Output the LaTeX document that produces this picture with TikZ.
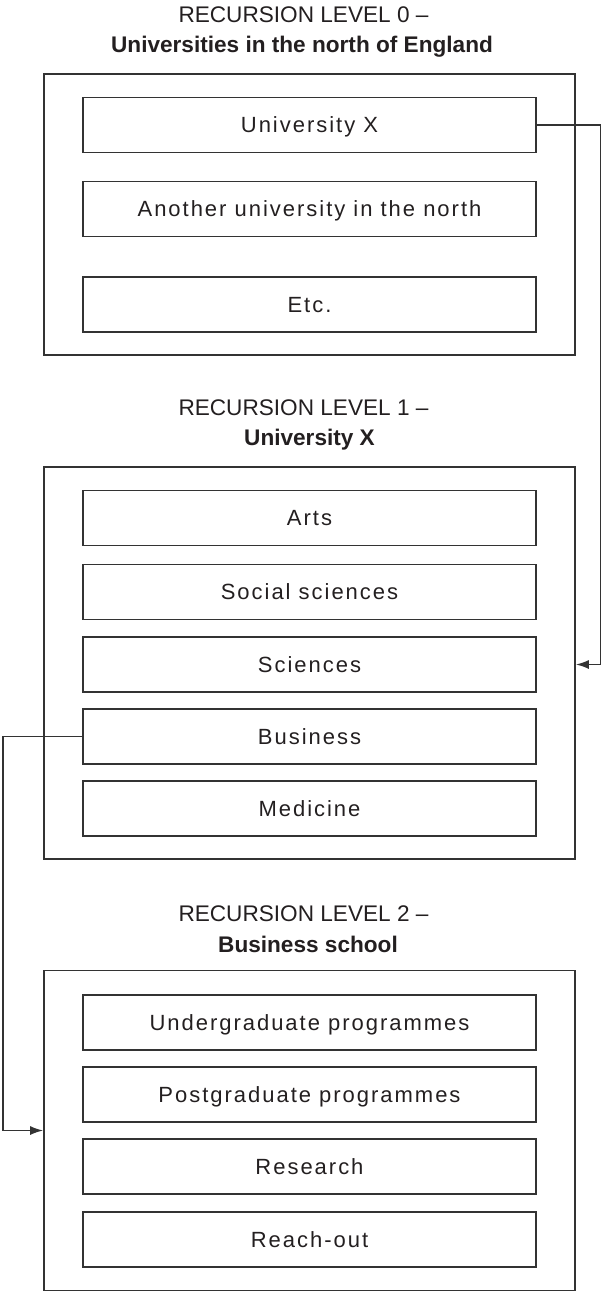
\documentclass[tikz,border=0pt]{standalone}
\usepackage{fontspec}
\setmainfont{Liberation Sans}
\newfontfamily\boxfont[LetterSpace=9]{Liberation Sans}
\usetikzlibrary{arrows.meta}

\definecolor{linegray}{HTML}{333333}
\definecolor{textgray}{HTML}{231F20}

\tikzset{
  levelbox/.style={draw=linegray, line width=1.7pt, minimum width=531pt, inner sep=0pt},
  unitbox/.style={draw=linegray, line width=1.6pt, minimum width=453pt, minimum height=55pt,
    inner sep=0pt, text height=15.8pt, text depth=0pt, text=textgray,
    font=\boxfont\fontsize{22}{26}\selectfont},
  heading/.style={anchor=base, text=textgray, inner sep=0pt, font=\fontsize{22.6}{27}\selectfont},
  subject/.style={heading, font=\fontsize{22.6}{27}\selectfont\bfseries},
  link/.style={draw=linegray, line width=1.5pt},
  tip/.style={-{Latex[length=13pt,width=9pt]}},
}

\begin{document}
\begin{tikzpicture}[x=1pt,y=-1pt]
  \useasboundingbox (0,0) rectangle (601,1292);

  % recursion level 0
  \node[heading] (head0) at (303.5,23) {RECURSION LEVEL 0 --};
  \node[subject] (title0) at (302,53) {Universities in the north of England};
  \node[levelbox, minimum height=281pt] (level0) at (309.5,214.5) {};
  \foreach \name/\y/\txt in {unix/125/University X, another/209/Another university in the north, etc/304.5/Etc.}
    \node[unitbox] (\name) at (309.5,\y) {\txt};

  % recursion level 1
  \node[heading] (head1) at (303.5,415) {RECURSION LEVEL 1 --};
  \node[subject] (title1) at (309.5,445) {University X};
  \node[levelbox, minimum height=392pt] (level1) at (309.5,663) {};
  \foreach \name/\y/\txt in {arts/518/Arts, social/592/Social sciences, sciences/664.5/Sciences,
      business/736.5/Business, medicine/808.5/Medicine}
    \node[unitbox] (\name) at (309.5,\y) {\txt};

  % recursion level 2
  \node[heading] (head2) at (303.5,921) {RECURSION LEVEL 2 --};
  \node[subject] (title2) at (308,952) {Business school};
  \node[levelbox, minimum height=320pt] (level2) at (309.5,1130.5) {};
  \foreach \name/\y/\txt in {undergrad/1022.5/Undergraduate programmes, postgrad/1094.5/Postgraduate programmes,
      research/1166.5/Research, reachout/1239.5/Reach-out}
    \node[unitbox] (\name) at (309.5,\y) {\txt};

  % drill-down links
  \draw[link,tip] (unix.east) -- ++(64,0) |- (sciences -| level1.east);
  \draw[link,tip] (business.west) -- ++(-79,0) |- (level2.west);
\end{tikzpicture}
\end{document}
